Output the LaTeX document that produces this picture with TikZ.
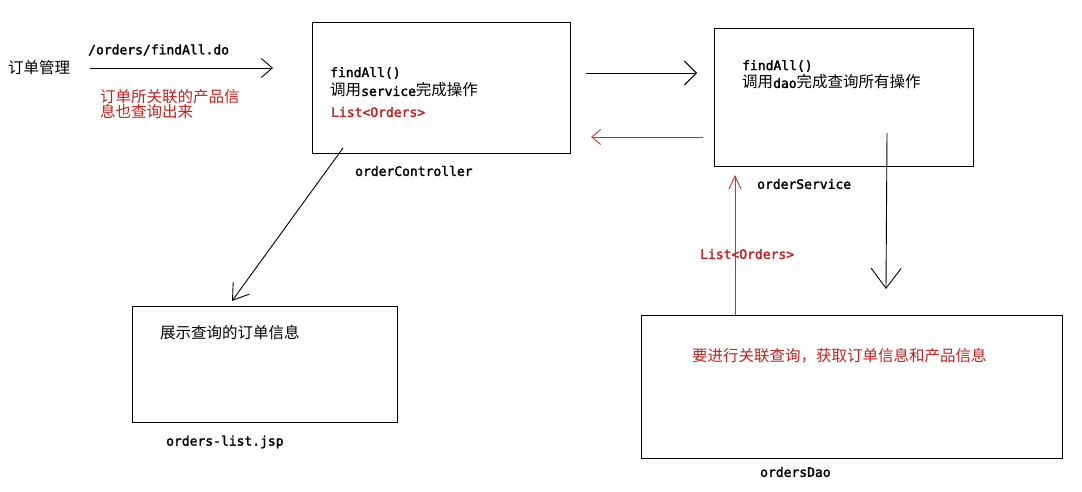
\documentclass[tikz,border=0pt]{standalone}
\usepackage{fontspec}
\setmainfont{Noto Sans CJK SC}
\newfontfamily\cjk{Noto Sans CJK SC}
\newfontfamily\monob{DejaVu Sans Mono}[FakeBold=2]
\usetikzlibrary{arrows.meta}
\definecolor{redtxt}{RGB}{190,35,30}
\definecolor{redline}{RGB}{200,50,40}
\begin{document}
\begin{tikzpicture}[x=1pt,y=-1pt,
  box/.style={draw=black,line width=1pt,inner sep=0pt},
  cn/.style={font=\cjk\fontsize{15.5}{16}\selectfont,inner sep=0pt,anchor=west},
  mn/.style={font=\monob\fontsize{13}{14}\selectfont,inner sep=0pt,anchor=west},
  conn/.style 2 args={line width=0.9pt,-{Straight Barb[length=#1,width=#2,line width=0.9pt]}},
  red/.style={color=redtxt}
]
\useasboundingbox (0,0) rectangle (1082,492);
\fill[white] (0,0) rectangle (1082,492);

% boxes
\node[box,minimum width=258pt,minimum height=131pt] (ctrl) at (441,88.5) {};
\node[box,minimum width=259pt,minimum height=138pt] (svc) at (843.5,98) {};
\node[box,minimum width=265pt,minimum height=116pt] (jsp) at (264.5,364) {};
\node[box,minimum width=421pt,minimum height=143pt] (dao) at (851.5,386.5) {};

% left texts
\node[cn] (mgr) at (8,68) {订单管理};
\node[mn] (url) at (88,50) {/orders/findAll.do};
\node[cn,red,align=left] (note) at (100,104) {订单所关联的产品信\\[-1pt]息也查询出来};

% controller texts
\node[mn] (c1) at (330,73) {findAll()};
\node[cn] (c2) at (330,90) {调用{\monob\fontsize{13}{14}\selectfont service}完成操作};
\node[mn,red] (c3) at (331,112) {List<Orders>};
\node[mn] (cl) at (355,171) {orderController};

% service texts
\node[mn] (s1) at (742,66) {findAll()};
\node[cn] (s2) at (742,82) {调用{\monob\fontsize{13}{14}\selectfont dao}完成查询所有操作};
\node[mn] (sl) at (757,184) {orderService};

% jsp texts
\node[cn] (j1) at (160,333) {展示查询的订单信息};
\node[mn] (jl) at (166,442) {orders-list.jsp};

% dao texts
\node[cn,red] (d1) at (692,356) {要进行关联查询，获取订单信息和产品信息};
\node[mn] (dl) at (760,472) {ordersDao};
\node[mn,red] (rl) at (700,254) {List<Orders>};

% connector endpoints
\coordinate (a1s) at (90,68);
\coordinate (a1e) at (273,68);
\coordinate (a2s) at (586,73);
\coordinate (a2e) at (697,73);
\coordinate (a3s) at (703,137);
\coordinate (a3e) at (591,137);
\coordinate (a4s) at (343,148);
\coordinate (a4e) at (232,301);
\coordinate (a5s) at (887,133);
\coordinate (a5e) at (886,289);
\coordinate (a6s) at (735,315);
\coordinate (a6e) at (735,175);

\draw[conn={11pt}{19pt}] (a1s) -- (a1e);
\draw[conn={12pt}{24pt}] (a2s) -- (a2e);
\draw[conn={9pt}{15pt},redline] (a3s) -- (a3e);
\draw[conn={15pt}{20pt}] (a4s) -- (a4e);
\draw[conn={20pt}{30pt}] (a5s) -- (a5e);
\draw[conn={13pt}{12pt},redline] (a6s) -- (a6e);
\end{tikzpicture}
\end{document}
